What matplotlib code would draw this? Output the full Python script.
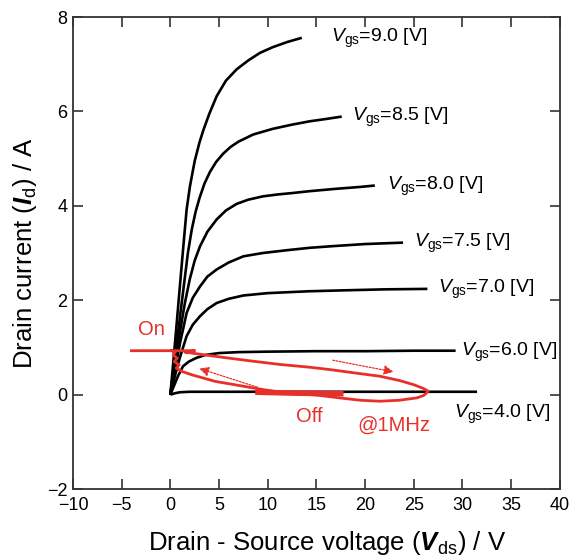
import matplotlib
matplotlib.use("Agg")
import matplotlib.pyplot as plt

plt.rcParams['font.family'] = ['Liberation Sans', 'DejaVu Sans']
plt.rcParams['mathtext.fontset'] = 'custom'
plt.rcParams['mathtext.rm'] = 'Liberation Sans'
plt.rcParams['mathtext.it'] = 'Liberation Sans:italic'
plt.rcParams['mathtext.bf'] = 'Liberation Sans:italic:bold'

# output characteristics (Vds in V, Id in A)
v90 = [0, 0.5, 1.0, 1.4, 1.67, 2.0, 2.5, 3.0, 3.4, 4.0, 4.75, 5.7, 6.8, 8.0, 9.2, 10.5, 12.0, 13.5]
i90 = [0, 1.15, 2.35, 3.3, 3.92, 4.4, 4.95, 5.35, 5.61, 5.95, 6.32, 6.65, 6.89, 7.08, 7.24, 7.36, 7.47, 7.56]

v85 = [0, 0.6, 1.2, 1.8, 2.2, 2.6, 3.0, 3.5, 4.07, 4.7, 5.4, 6.2, 7.0, 8.5, 10.5, 12.5, 14.3, 16.0, 17.6]
i85 = [0, 1.0, 2.0, 3.0, 3.5, 3.88, 4.17, 4.47, 4.72, 4.93, 5.1, 5.25, 5.36, 5.51, 5.63, 5.72, 5.79, 5.84, 5.89]

v80 = [0, 0.5, 1.0, 1.5, 2.0, 2.5, 3.04, 3.8, 4.75, 5.7, 6.8, 8.0, 9.5, 11.0, 12.5, 14.3, 17.0, 19.5, 21.0]
i80 = [0, 0.7, 1.35, 1.95, 2.45, 2.84, 3.14, 3.45, 3.71, 3.9, 4.04, 4.13, 4.2, 4.24, 4.27, 4.31, 4.36, 4.4, 4.43]

v75 = [0, 0.5, 1.0, 1.67, 2.3, 3.04, 3.8, 4.75, 6.0, 7.5, 9.5, 12.0, 14.3, 17.0, 20.0, 23.9]
i75 = [0, 0.55, 1.1, 1.73, 2.05, 2.29, 2.5, 2.65, 2.8, 2.93, 3.0, 3.06, 3.11, 3.15, 3.19, 3.22]

v70 = [0, 0.5, 1.0, 1.67, 2.3, 3.04, 3.8, 4.75, 6.0, 7.5, 10.0, 14.3, 18.0, 22.0, 26.4]
i70 = [0, 0.42, 0.8, 1.24, 1.48, 1.66, 1.81, 1.94, 2.03, 2.1, 2.15, 2.19, 2.21, 2.23, 2.24]

v60 = [0, 0.4, 0.8, 1.3, 1.9, 2.7, 3.6, 5.0, 7.0, 10.0, 15.0, 20.0, 25.0, 29.3]
i60 = [0, 0.2, 0.4, 0.6, 0.7, 0.78, 0.84, 0.88, 0.9, 0.91, 0.92, 0.92, 0.93, 0.93]

v40 = [0, 0.5, 1.0, 2.0, 4.0, 8.0, 15.0, 22.0, 31.5]
i40 = [0, 0.03, 0.05, 0.06, 0.06, 0.06, 0.06, 0.06, 0.06]

curves = [(v90, i90), (v85, i85), (v80, i80), (v75, i75), (v70, i70), (v60, i60), (v40, i40)]
labels = ['9.0', '8.5', '8.0', '7.5', '7.0', '6.0', '4.0']
# label anchor (left edge, vertical centre)
lab_x = [16.5, 18.7, 22.2, 25.0, 27.5, 29.9, 29.1]
lab_y = [7.55, 5.88, 4.42, 3.2, 2.22, 0.9, -0.42]

# switching trajectory @1MHz
rv = [-4.0, 1.0, 2.5, 1.5, 5.0, 8.0, 11.2, 14.3, 16.4, 18.9, 21.5, 23.5, 25.0, 26.0, 26.5,
      26.0, 25.3, 23.5, 21.5, 19.5, 17.4, 15.0, 12.0, 9.7, 4.6, 2.2, 1.2, 0.6, 0.9, 0.4,
      0.7, 0.3, 0.5, 0.1]
ri = [0.93, 0.93, 0.93, 0.9, 0.8, 0.72, 0.64, 0.58, 0.53, 0.46, 0.39, 0.3, 0.21, 0.13, 0.07,
      -0.02, -0.07, -0.12, -0.14, -0.12, -0.07, -0.01, 0.03, 0.1, 0.28, 0.42, 0.49, 0.56, 0.63, 0.7,
      0.77, 0.84, 0.9, 0.93]
blob_v = [9.0, 13.0, 17.5]
blob_i = [0.05, 0.03, 0.02]

red = '#e8302a'

fig = plt.figure(figsize=(5.73, 5.56), dpi=100)
ax = fig.add_axes([0.1274, 0.1205, 0.8496, 0.8489])

for (v, i), lab, lx, ly in zip(curves, labels, lab_x, lab_y):
    ax.plot(v, i, color='black', lw=1.9, solid_capstyle='butt', solid_joinstyle='round')
    ax.text(lx, ly, r'$V_{\rm gs}$=' + lab + ' [V]', fontsize=14, va='center', ha='left')

ax.plot(rv, ri, color=red, lw=2.0, solid_joinstyle='round')
ax.plot(blob_v, blob_i, color=red, lw=4.0)

arr = dict(arrowstyle='-|>', color=red, lw=0.9, linestyle=(0, (1.5, 1.2)), mutation_scale=14)
ax.annotate('', xy=(23.2, 0.47), xytext=(16.4, 0.74), arrowprops=arr)
ax.annotate('', xy=(2.7, 0.57), xytext=(9.2, 0.14), arrowprops=arr)

ax.text(-1.9, 1.38, 'On', color=red, fontsize=14.5, ha='center', va='center')
ax.text(14.3, -0.47, 'Off', color=red, fontsize=14.5, ha='center', va='center')
ax.text(23.0, -0.64, '@1MHz', color=red, fontsize=14.5, ha='center', va='center')

ax.set_xlim(-10, 40)
ax.set_ylim(-2, 8)
ax.set_xticks(range(-10, 41, 5))
ax.set_yticks(range(-2, 9, 2))
ax.tick_params(direction='in', length=7, width=1.2, top=True, right=True,
               labelsize=13, colors='#333333', labelcolor='black')
ax.tick_params(axis='x', pad=6)
ax.tick_params(axis='y', pad=4)
for s in ax.spines.values():
    s.set_linewidth(1.3)
    s.set_color('#333333')

ax.set_xlabel(r'Drain - Source voltage ($\mathbf{V}_{\rm ds}$) / V', fontsize=18.5)
ax.set_ylabel(r'Drain current ($\mathbf{I}_{\rm d}$) / A', fontsize=18.5, labelpad=6)
ax.xaxis.set_label_coords(0.522, -0.085)

fig.savefig('out.png', dpi=100)
